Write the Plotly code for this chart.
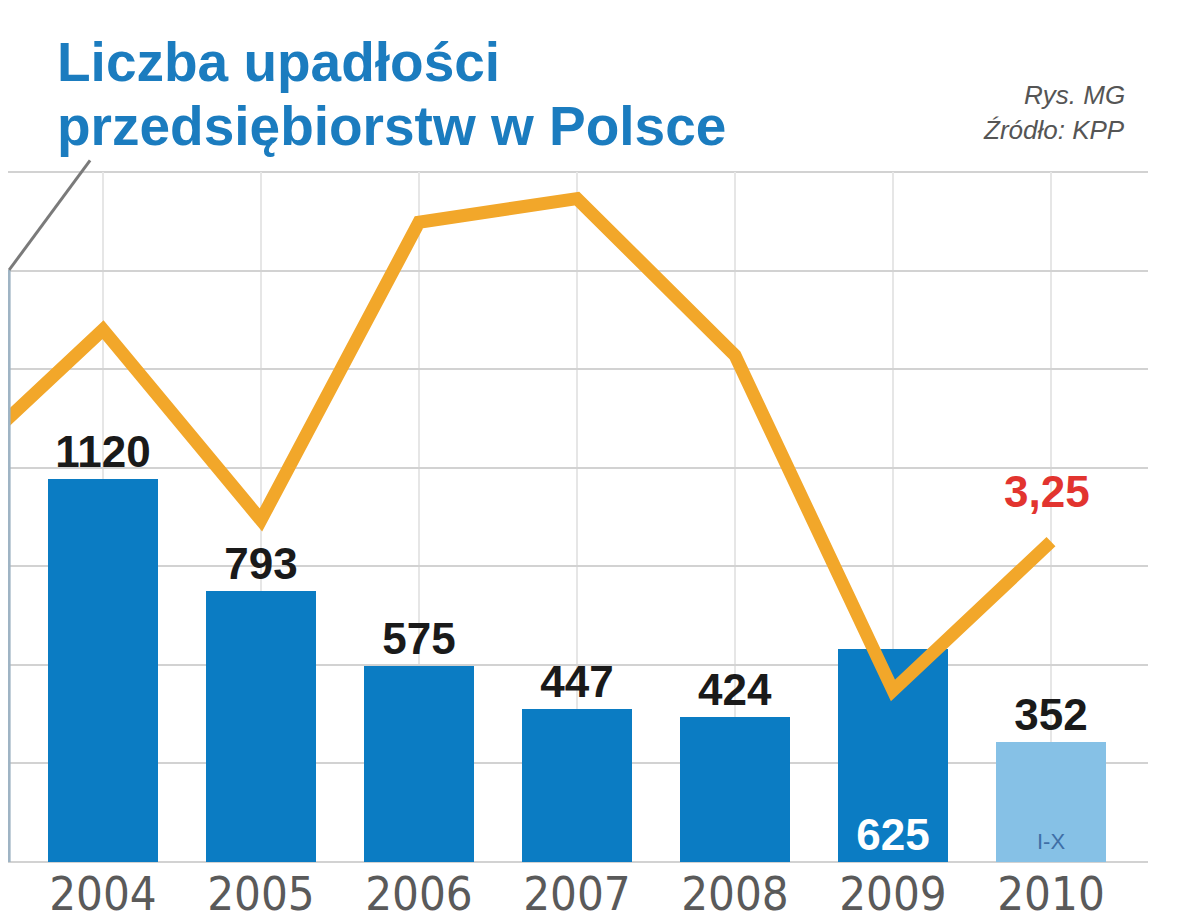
import plotly.graph_objects as go

# --- data ---
years = [2004, 2005, 2006, 2007, 2008, 2009, 2010]
bankruptcies = [1120, 793, 575, 447, 424, 625, 352]
bar_labels = ["1120", "793", "575", "447", "424", "625", "352"]
line_years = [2003, 2004, 2005, 2006, 2007, 2008, 2009, 2010]
line_values = [3.9, 5.4, 3.47, 6.49, 6.73, 5.14, 1.74, 3.25]
tick_labels = ["2004", "2005", "2006", "2007", "2008", "2009", "2010"]

BLUE = "#0b7cc3"
LIGHT = "#86c1e6"
ORANGE = "#f2a72a"

bar_colors = [BLUE] * 6 + [LIGHT]
text_pos = ["outside"] * 5 + ["inside", "outside"]
text_cols = ["#1a1a1a"] * 5 + ["white", "#1a1a1a"]

fig = go.Figure()
fig.add_trace(go.Bar(
    x=years, y=bankruptcies, width=0.70,
    marker=dict(color=bar_colors, line=dict(width=0)),
    text=bar_labels, textposition=text_pos, insidetextanchor="start",
    textfont=dict(family="Liberation Sans", size=44, color=text_cols, weight="bold"),
    cliponaxis=False, yaxis="y", showlegend=False,
))
fig.add_trace(go.Scatter(
    x=line_years, y=line_values, mode="lines", yaxis="y2",
    line=dict(color=ORANGE, width=13), showlegend=False,
))

fig.update_layout(
    width=1192, height=915,
    margin=dict(l=0, r=52, t=164, b=61),
    paper_bgcolor="white", plot_bgcolor="white",
    bargap=0,
    xaxis=dict(range=[2003.399, 2010.614], tickvals=years, ticktext=tick_labels,
               showgrid=True, gridcolor="#e6e6e6", gridwidth=2,
               ticks="", showline=False, zeroline=False,
               tickfont=dict(family="Liberation Sans Narrow, DejaVu Sans Condensed", size=47, color="#5a5a5a")),
    yaxis=dict(range=[0, 2020], tick0=0, dtick=2020 / 7, showticklabels=False,
               showgrid=True, gridcolor="#d2d2d2", gridwidth=2,
               zeroline=True, zerolinecolor="#d2d2d2", zerolinewidth=2, ticks=""),
    yaxis2=dict(range=[0, 7], overlaying="y", side="right", showgrid=False,
                showticklabels=False, zeroline=False, ticks=""),
)

# top gridline (at the very top of the plotting area)
fig.add_shape(type="line", xref="paper", yref="paper", x0=0, x1=1, y0=1, y1=1,
              layer="below", line=dict(color="#d2d2d2", width=2))

# inner label of the last bar
fig.add_annotation(x=years[-1], y=0, yref="y", text="I-X", showarrow=False,
                   yanchor="bottom", yshift=6,
                   font=dict(family="Liberation Sans", size=22, color="#3f6fa6"))

# last line value label
fig.add_annotation(x=line_years[-1], y=line_values[-1], yref="y2", text="<b>3,25</b>",
                   showarrow=False, yshift=50, xshift=-4,
                   font=dict(family="Liberation Sans", size=44, color="#e2342f"))

# title
fig.add_annotation(xref="paper", yref="paper", x=0.041, y=1.159, text="<b>Liczba upadłości</b>",
                   showarrow=False, xanchor="left", yanchor="middle",
                   font=dict(family="Liberation Sans", size=55, color="#1b7cbf"))
fig.add_annotation(xref="paper", yref="paper", x=0.041, y=1.066, text="<b>przedsiębiorstw w Polsce</b>",
                   showarrow=False, xanchor="left", yanchor="middle",
                   font=dict(family="Liberation Sans", size=55, color="#1b7cbf"))

# source
fig.add_annotation(xref="paper", yref="paper", x=0.982, y=1.112, text="<i>Rys. MG</i>",
                   showarrow=False, xanchor="right", yanchor="middle",
                   font=dict(family="Liberation Sans Narrow, Liberation Sans", size=26, color="#555555"))
fig.add_annotation(xref="paper", yref="paper", x=0.982, y=1.061, text="<i>Źródło: KPP</i>",
                   showarrow=False, xanchor="right", yanchor="middle",
                   font=dict(family="Liberation Sans Narrow, Liberation Sans", size=26, color="#555555"))

# leader line from title to left axis
fig.add_shape(type="line", xref="paper", yref="paper", x0=0.001, y0=0.0, x1=0.001, y1=0.858,
              line=dict(color="#9fb4c4", width=3))
fig.add_shape(type="line", xref="paper", yref="paper", x0=0.001, y0=0.858, x1=0.072, y1=1.017,
              line=dict(color="#7a7a7a", width=3))

fig.write_html("out.html")
